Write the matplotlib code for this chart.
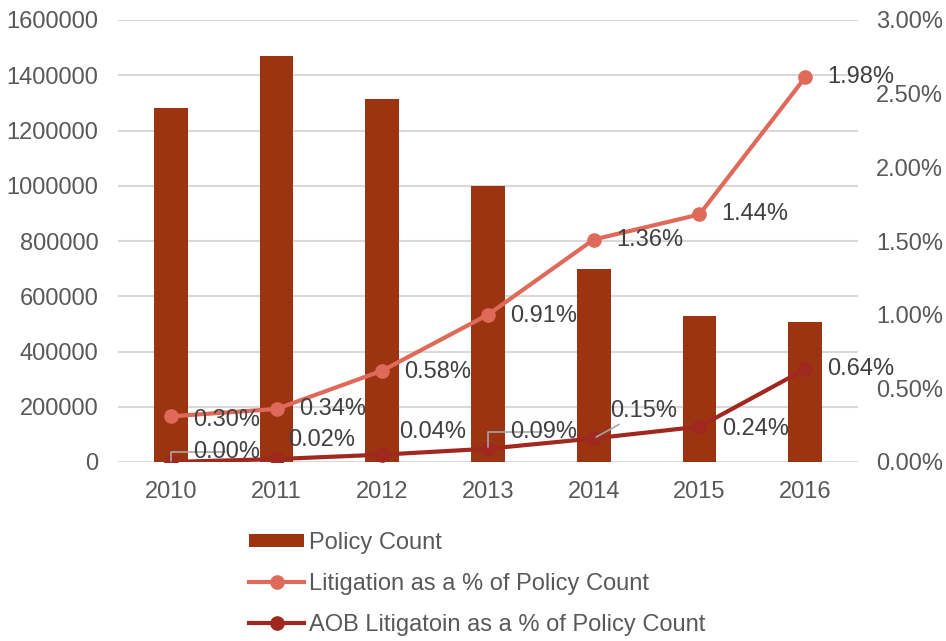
import matplotlib
matplotlib.use("Agg")
import matplotlib.pyplot as plt
from matplotlib.ticker import FuncFormatter, MultipleLocator
from matplotlib.lines import Line2D
from matplotlib.patches import Patch

plt.rcParams['font.family'] = ['Liberation Sans', 'DejaVu Sans']

years = ['2010', '2011', '2012', '2013', '2014', '2015', '2016']
policy_count = [1281000, 1470000, 1314000, 999000, 699000, 528000, 507000]
# plotted positions (as drawn) and label texts (as shown)
litigation_pct = [0.0031, 0.0036, 0.0062, 0.0100, 0.0151, 0.0168, 0.0261]
litigation_labels = ['0.30%', '0.34%', '0.58%', '0.91%', '1.36%', '1.44%', '1.98%']
aob_pct = [0.0000, 0.0002, 0.0005, 0.0009, 0.0016, 0.0024, 0.0063]
aob_labels = ['0.00%', '0.02%', '0.04%', '0.09%', '0.15%', '0.24%', '0.64%']

bar_color = '#9C3412'
lit_color = '#E06A5A'
aob_color = '#A0281E'
text_color = '#595959'
label_color = '#404040'
grid_color = '#D9D9D9'
FS = 17

fig = plt.figure(figsize=(9.46, 6.41), dpi=100)
ax = fig.add_axes([118/946, 1-462/641, (858-118)/946, (462-20)/641])
ax2 = ax.twinx()

x = list(range(len(years)))
ax.bar(x, policy_count, width=0.32, color=bar_color, zorder=2)
ax.set_ylim(0, 1600000)
ax.yaxis.set_major_locator(MultipleLocator(200000))
ax.yaxis.set_major_formatter(FuncFormatter(lambda v, p: f"{int(round(v))}"))
ax.set_xlim(-0.5, len(years)-0.5)
ax.set_xticks(x)
ax.set_xticklabels(years)
ax.grid(axis='y', color=grid_color, linewidth=1.5, zorder=0)
ax.set_axisbelow(True)
ax.tick_params(axis='both', length=0, labelsize=FS, labelcolor=text_color)
ax.tick_params(axis='y', pad=14)
ax.tick_params(axis='x', pad=14)

ax2.plot(x, litigation_pct, color=lit_color, lw=3, marker='o', ms=9.5, zorder=3)
ax2.plot(x, aob_pct, color=aob_color, lw=3, marker='o', ms=9.5, zorder=3)
ax2.set_ylim(0, 0.03)
ax2.yaxis.set_major_locator(MultipleLocator(0.005))
ax2.yaxis.set_major_formatter(FuncFormatter(lambda v, p: f"{v*100:.2f}%"))
ax2.tick_params(axis='y', length=0, labelsize=FS, labelcolor=text_color, pad=13)

for a in (ax, ax2):
    for s in a.spines.values():
        s.set_visible(False)

# data labels (offsets in points)
lit_offsets = [(16, -3), (16, 0), (16, -1), (16, -1), (16, 0), (16, 0), (16, 0)]
for i, (v, lab) in enumerate(zip(litigation_pct, litigation_labels)):
    ax2.annotate(lab, (i, v), xytext=lit_offsets[i], textcoords='offset points',
                 ha='left', va='center', fontsize=FS, color=label_color, zorder=5)

aob_offsets = [(16, 7), (8, 14), (12, 16), (16, 12), (12, 20), (16, -2), (16, 0)]
leader = {0: 'angle', 3: 'angle', 4: 'straight'}
for i, (v, lab) in enumerate(zip(aob_pct, aob_labels)):
    if i in leader:
        if leader[i] == 'angle':
            ap = dict(arrowstyle='-', color='#A6A6A6', lw=1.2,
                      connectionstyle='angle,angleA=0,angleB=90,rad=0',
                      shrinkA=1, shrinkB=1, patchA=None)
        else:
            ap = dict(arrowstyle='-', color='#A6A6A6', lw=1.2, shrinkA=0, shrinkB=2)
        ax2.annotate(lab, (i, v), xytext=aob_offsets[i], textcoords='offset points',
                     ha='left', va='center', fontsize=FS, color=label_color, zorder=5,
                     arrowprops=ap)
    else:
        ax2.annotate(lab, (i, v), xytext=aob_offsets[i], textcoords='offset points',
                     ha='left', va='center', fontsize=FS, color=label_color, zorder=5)

handles = [
    Patch(facecolor=bar_color, edgecolor='none'),
    Line2D([0], [0], color=lit_color, lw=3, marker='o', ms=9.5),
    Line2D([0], [0], color=aob_color, lw=3, marker='o', ms=9.5),
]
labels = ['Policy Count', 'Litigation as a % of Policy Count',
          'AOB Litigatoin as a % of Policy Count']
leg = fig.legend(handles, labels, loc='upper left',
                 bbox_to_anchor=(249/946, 1-532/641), frameon=False,
                 fontsize=FS, handlelength=2.35, handleheight=0.5,
                 handletextpad=0.2, labelspacing=0.8, borderpad=0,
                 borderaxespad=0)
for t in leg.get_texts():
    t.set_color(text_color)

fig.savefig('out.png', dpi=100)
